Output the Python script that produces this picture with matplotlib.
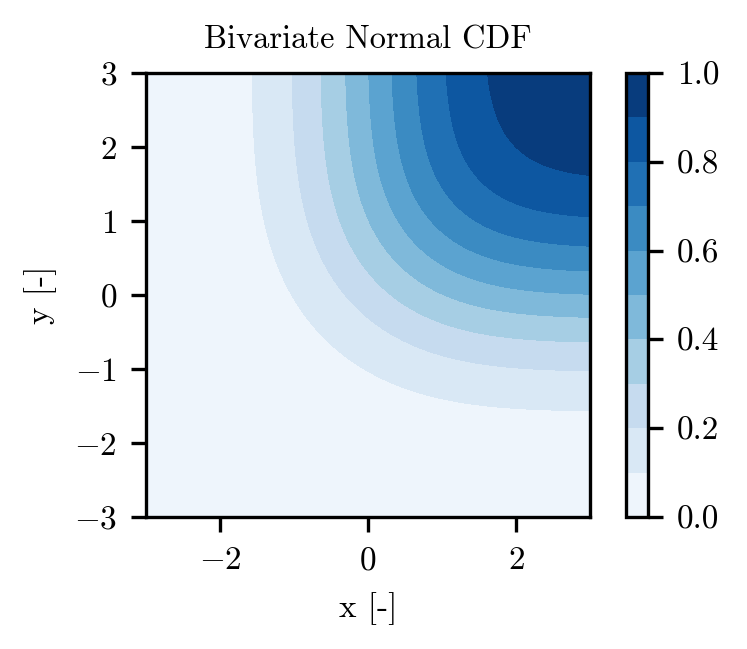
import math
import numpy as np
import matplotlib
matplotlib.use("Agg")
import matplotlib.pyplot as plt

plt.rcParams["font.family"] = "serif"
plt.rcParams["font.serif"] = ["cmr10"]
plt.rcParams["mathtext.fontset"] = "cm"
plt.rcParams["axes.formatter.use_mathtext"] = True
plt.rcParams["font.size"] = 8

# distribution parameters
mean = [0.0, 0.0]
variance = [1.5, 1.5]
x_range = [-3, 3]
y_range = [-3, 3]
levels = [0.0, 0.1, 0.2, 0.3, 0.4, 0.5, 0.6, 0.7, 0.8, 0.9, 1.0]
cbar_ticks = [0.0, 0.2, 0.4, 0.6, 0.8, 1.0]

erf = np.vectorize(math.erf)

def norm_cdf(v, mu, var):
    return 0.5 * (1 + erf((v - mu) / math.sqrt(2 * var)))

x = np.linspace(x_range[0], x_range[1], 300)
y = np.linspace(y_range[0], y_range[1], 300)
X, Y = np.meshgrid(x, y)
Z = norm_cdf(X, mean[0], variance[0]) * norm_cdf(Y, mean[1], variance[1])

fig = plt.figure(figsize=(747 / 300, 649 / 300), dpi=300)
ax = fig.add_axes([0.1954, 0.2034, 0.5944, 0.6841])
cax = fig.add_axes([0.838, 0.2034, 0.0295, 0.6841])

cs = ax.contourf(X, Y, Z, levels=levels, cmap="Blues", vmin=0, vmax=1)
ax.set_xlim(x_range)
ax.set_ylim(y_range)
ax.set_xticks([-2, 0, 2])
ax.set_yticks([-3, -2, -1, 0, 1, 2, 3])
ax.set_xlabel("x [-]")
ax.set_ylabel("y [-]")
ax.set_title("Bivariate Normal CDF", fontsize=7.8)

cb = fig.colorbar(cs, cax=cax, ticks=cbar_ticks)
cb.ax.set_yticklabels(["%.1f" % t for t in cbar_ticks])

fig.savefig("out.png", dpi=300)
